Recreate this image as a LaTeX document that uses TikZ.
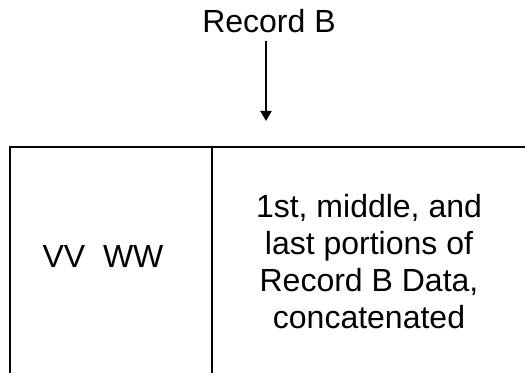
\documentclass[tikz,border=0pt]{standalone}
\usepackage{fontspec}
\setmainfont{Liberation Sans}
\usetikzlibrary{arrows.meta, positioning}
\tikzset{%
	cell/.style={draw, rectangle, line width=1pt, inner sep=0pt, outer sep=0pt, anchor=north west},
	celltext/.style={inner sep=0pt, align=center, font=\fontsize{16}{18.5}\selectfont},
	title/.style={inner sep=3.5pt, font=\fontsize{16}{18.5}\selectfont},
	feed/.style={-{Triangle[length=5pt, width=5.5pt]}, line width=1pt}
}

\begin{document}
\begin{tikzpicture}[x=0.5pt, y=-0.5pt]
	\useasboundingbox (0,0) rectangle (525,373);
	\clip (0,0) rectangle (525,373);

	\node[title, anchor=base] (rec) at (269,33) {Record B};
	\coordinate (drop) at (266,121);

	\node[cell, minimum width=101pt, minimum height=120pt] (hdr) at (10,147) {};
	\node[cell, minimum width=160pt, minimum height=120pt] (body) at (hdr.north east) {};

	\node[celltext, anchor=base] (hdrtext) at (103,268) {VV\ \ WW};
	\node[celltext, anchor=north] (bodytext) at (369,194)
		{1st, middle, and\\last portions of\\Record B Data,\\concatenated};

	\draw[feed] (rec.south -| drop) to (drop);
\end{tikzpicture}
\end{document}
